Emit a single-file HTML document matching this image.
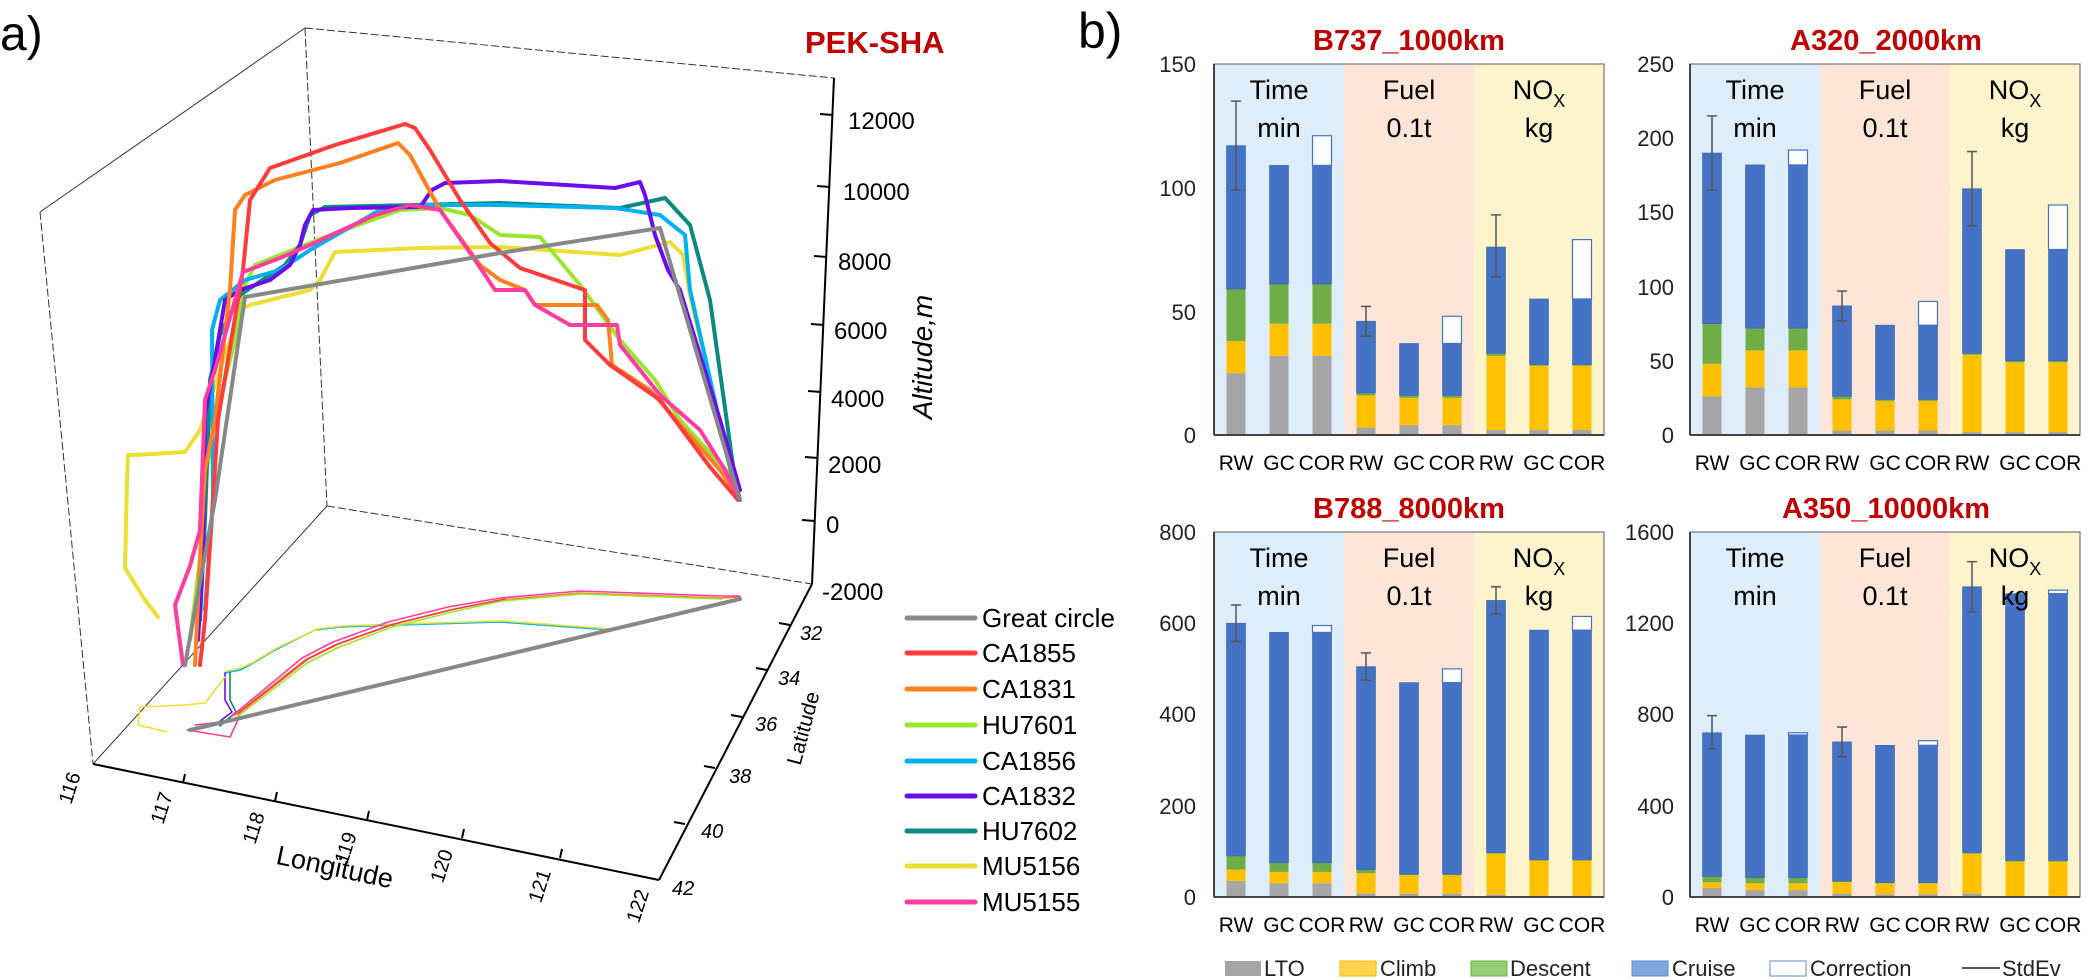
<!DOCTYPE html>
<html><head><meta charset="utf-8"><style>
html,body{margin:0;padding:0;background:#fff}
svg{display:block;font-family:"Liberation Sans",Arial,sans-serif}
</style></head><body>
<svg id="s" width="2092" height="979" viewBox="0 0 2092 979" xmlns="http://www.w3.org/2000/svg">
<rect width="2092" height="979" fill="#fff"/>
<!-- Panel a -->
<text x="0" y="50" font-size="48">a)</text>
<text x="805" y="53" font-size="31" font-weight="bold" fill="#c00000">PEK-SHA</text>
<g stroke="#333" stroke-width="1" fill="none">
<line x1="305" y1="28" x2="327" y2="506" stroke-dasharray="8,3"/>
<line x1="305" y1="28" x2="834" y2="78" stroke-dasharray="8,3"/>
<line x1="305" y1="28" x2="40" y2="212"/>
<line x1="40" y1="212" x2="93" y2="764" stroke-dasharray="8,3"/>
<line x1="327" y1="506" x2="812" y2="584" stroke-dasharray="8,3"/>
<line x1="327" y1="506" x2="93" y2="764"/>
</g>
<g stroke="#000" stroke-width="2" fill="none">
<line x1="93" y1="764" x2="659" y2="880"/>
<line x1="659" y1="880" x2="812" y2="584"/>
<line x1="812" y1="584" x2="834" y2="78"/>
<line x1="183" y1="783" x2="185" y2="774"/><line x1="275" y1="801" x2="277" y2="792"/><line x1="367" y1="820" x2="369" y2="811"/><line x1="462" y1="838" x2="464" y2="829"/><line x1="560" y1="858" x2="562" y2="849"/>
<line x1="790" y1="625" x2="779" y2="623"/><line x1="767" y1="670" x2="756" y2="668"/><line x1="742" y1="717" x2="731" y2="715"/><line x1="715" y1="768" x2="704" y2="766"/><line x1="685" y1="824" x2="674" y2="822"/>
<line x1="833" y1="115" x2="820" y2="114"/><line x1="830" y1="187" x2="817" y2="186"/><line x1="827" y1="257" x2="814" y2="256"/><line x1="824" y1="325" x2="811" y2="324"/><line x1="821" y1="392" x2="808" y2="391"/><line x1="818" y1="458" x2="805" y2="457"/><line x1="815" y1="521" x2="802" y2="520"/>
</g>
<g font-size="24" fill="#000">
<text x="848" y="129">12000</text><text x="843" y="200">10000</text><text x="838" y="270">8000</text><text x="834" y="339">6000</text><text x="831" y="407">4000</text><text x="828" y="473">2000</text><text x="826" y="533">0</text><text x="822" y="600">-2000</text>
</g>
<text transform="translate(932,357) rotate(-90)" text-anchor="middle" font-size="28" font-style="italic">Altitude,m</text>
<g font-size="20" fill="#000" font-style="italic">
<text x="800" y="640">32</text><text x="778" y="685">34</text><text x="755" y="731">36</text><text x="729" y="783">38</text><text x="701" y="838">40</text><text x="672" y="895">42</text>
</g>
<text transform="translate(810,730) rotate(-75)" text-anchor="middle" font-size="21">Latitude</text>
<g font-size="20" text-anchor="middle">
<text transform="translate(76,790) rotate(-72)">116</text><text transform="translate(168,810) rotate(-72)">117</text><text transform="translate(260,830) rotate(-72)">118</text><text transform="translate(352,850) rotate(-72)">119</text><text transform="translate(448,868) rotate(-72)">120</text><text transform="translate(546,888) rotate(-72)">121</text><text transform="translate(644,908) rotate(-72)">122</text>
</g>
<text transform="translate(333,876) rotate(12)" text-anchor="middle" font-size="27">Longitude</text>
<g fill="none" stroke-linejoin="round" stroke-linecap="round">
<g stroke-width="1.6">
<polyline stroke="#00b0f0" points="225,673 240,670 250,665 275,650 315,630 340,627 400,625 500,622 610,630 740,599"/>
<polyline stroke="#ecdf33" points="226,671 241,668 252,663 277,648 317,629 342,626 402,624 502,621 612,629 740,598"/>
<polyline stroke="#6a0dea" points="225,673 225,700 232,712 215,725"/>
<polyline stroke="#0a8a80" points="230,673 230,700 236,712 220,726"/>
<polyline stroke="#ff8020" points="235,715 305,660 335,645 390,625 450,610 500,600 580,593 720,598 740,597"/>
<polyline stroke="#9be52f" points="237,717 307,663 337,648 392,627 452,612 502,601 582,594 722,599"/>
<polyline stroke="#ff3ca0" points="232,716 302,658 333,642 388,622 448,607 500,598 580,591 720,596 740,596"/>
<polyline stroke="#ff3c3c" points="238,714 308,659 338,644 394,624 455,609 505,599"/>
<polyline stroke="#ff3ca0" points="187,730 230,737 238,720 195,725"/>
<polyline stroke="#ecdf33" points="225,677 205,703 185,705 140,707 138,725 167,732"/>
</g>
<polyline stroke="#888" stroke-width="4" points="190,730 740,599"/>
<g stroke-width="4">
<polyline stroke="#ecdf33" points="158,617 145,600 125,568 127,479 128,455 135,455 185,452 200,430 240,310 250,305 310,290 320,280 335,252 420,248 500,247 620,255 670,242 683,255 690,295 735,490"/>
<polyline stroke="#9be52f" points="190,640 200,560 205,479 215,420 220,400 235,340 245,285 255,265 330,235 400,210 440,208 470,215 500,235 540,237 580,285 620,340 655,380 680,420 735,480"/>
<polyline stroke="#0a8a80" points="200,620 205,520 210,380 220,335 240,295 285,265 300,245 310,215 325,207 500,203 620,208 665,198 690,225 710,300 735,480 740,500"/>
<polyline stroke="#00b0f0" points="205,610 213,500 212,330 220,300 245,280 280,270 310,250 380,210 425,205 500,205 615,208 660,215 685,235 690,290 735,490"/>
<polyline stroke="#6a0dea" points="198,640 203,560 205,415 215,360 225,300 240,290 270,280 290,265 300,245 305,225 313,210 350,208 420,207 432,190 445,183 500,181 615,188 640,182 645,195 655,235 668,270 680,290 720,420 740,490"/>
<polyline stroke="#ff8020" points="195,665 200,560 205,470 215,420 230,290 235,210 245,195 275,180 340,163 398,143 410,155 440,210 480,265 500,280 525,290 535,305 597,305 608,320 612,365 650,390 720,470 740,500"/>
<polyline stroke="#ff3c3c" points="200,665 205,620 213,500 218,420 243,270 250,200 270,168 335,145 405,124 415,128 430,150 460,200 490,243 520,268 585,290 585,340 610,365 660,400 710,467 738,500"/>
<polyline stroke="#ff3ca0" points="183,665 175,605 190,566 200,530 205,400 215,370 235,300 243,272 280,258 310,245 375,215 410,205 440,210 475,260 495,290 525,290 535,305 570,325 617,325 620,345 660,395 700,430 725,470 740,500"/>
<polyline stroke="#888" points="185,665 215,500 245,297 500,253 660,228 740,500"/>
</g>
</g>
<g stroke-width="5" stroke-linecap="round">
<line x1="907" y1="618" x2="975" y2="618" stroke="#888"/>
<line x1="907" y1="653" x2="975" y2="653" stroke="#ff3c3c"/>
<line x1="907" y1="689" x2="975" y2="689" stroke="#ff8020"/>
<line x1="907" y1="725" x2="975" y2="725" stroke="#9be52f"/>
<line x1="907" y1="761" x2="975" y2="761" stroke="#00b0f0"/>
<line x1="907" y1="796" x2="975" y2="796" stroke="#6a0dea"/>
<line x1="907" y1="831" x2="975" y2="831" stroke="#0a8a80"/>
<line x1="907" y1="866" x2="975" y2="866" stroke="#ecdf33"/>
<line x1="907" y1="902" x2="975" y2="902" stroke="#ff3ca0"/>
</g>
<g font-size="26">
<text x="982" y="627">Great circle</text><text x="982" y="662">CA1855</text><text x="982" y="698">CA1831</text><text x="982" y="734">HU7601</text><text x="982" y="770">CA1856</text><text x="982" y="805">CA1832</text><text x="982" y="840">HU7602</text><text x="982" y="875">MU5156</text><text x="982" y="911">MU5155</text>
</g>
<!-- Panel b -->
<text x="1078" y="48" font-size="50">b)</text>
<g font-size="29" font-weight="bold" fill="#c00000" text-anchor="middle">
<text x="1409" y="50">B737_1000km</text><text x="1886" y="50">A320_2000km</text>
<text x="1409" y="518">B788_8000km</text><text x="1886" y="518">A350_10000km</text>
</g>
<g id="bars"></g>
<g font-size="22" fill="#222" text-anchor="end">
<text x="1196" y="72">150</text><text x="1196" y="196">100</text><text x="1196" y="320">50</text><text x="1196" y="443">0</text>
<text x="1674" y="72">250</text><text x="1674" y="146">200</text><text x="1674" y="220">150</text><text x="1674" y="295">100</text><text x="1674" y="369">50</text><text x="1674" y="443">0</text>
<text x="1196" y="540">800</text><text x="1196" y="631">600</text><text x="1196" y="722">400</text><text x="1196" y="814">200</text><text x="1196" y="905">0</text>
<text x="1674" y="540">1600</text><text x="1674" y="631">1200</text><text x="1674" y="722">800</text><text x="1674" y="814">400</text><text x="1674" y="905">0</text>
</g>
<g id="cats" font-size="27" text-anchor="middle" fill="#000">
<text x="1279" y="99">Time</text><text x="1279" y="137">min</text><text x="1409" y="99">Fuel</text><text x="1409" y="137">0.1t</text><text x="1539" y="99">NO<tspan font-size="18" dy="8">X</tspan></text><text x="1539" y="137">kg</text>
<text x="1755" y="99">Time</text><text x="1755" y="137">min</text><text x="1885" y="99">Fuel</text><text x="1885" y="137">0.1t</text><text x="2015" y="99">NO<tspan font-size="18" dy="8">X</tspan></text><text x="2015" y="137">kg</text>
<text x="1279" y="567">Time</text><text x="1279" y="605">min</text><text x="1409" y="567">Fuel</text><text x="1409" y="605">0.1t</text><text x="1539" y="567">NO<tspan font-size="18" dy="8">X</tspan></text><text x="1539" y="605">kg</text>
<text x="1755" y="567">Time</text><text x="1755" y="605">min</text><text x="1885" y="567">Fuel</text><text x="1885" y="605">0.1t</text><text x="2015" y="567">NO<tspan font-size="18" dy="8">X</tspan></text><text x="2015" y="605">kg</text>
</g>
<g font-size="21" text-anchor="middle" fill="#000">
<text x="1236" y="470">RW</text><text x="1279" y="470">GC</text><text x="1322" y="470">COR</text><text x="1366" y="470">RW</text><text x="1409" y="470">GC</text><text x="1452" y="470">COR</text><text x="1496" y="470">RW</text><text x="1539" y="470">GC</text><text x="1582" y="470">COR</text>
<text x="1712" y="470">RW</text><text x="1755" y="470">GC</text><text x="1798" y="470">COR</text><text x="1842" y="470">RW</text><text x="1885" y="470">GC</text><text x="1928" y="470">COR</text><text x="1972" y="470">RW</text><text x="2015" y="470">GC</text><text x="2058" y="470">COR</text>
<text x="1236" y="932">RW</text><text x="1279" y="932">GC</text><text x="1322" y="932">COR</text><text x="1366" y="932">RW</text><text x="1409" y="932">GC</text><text x="1452" y="932">COR</text><text x="1496" y="932">RW</text><text x="1539" y="932">GC</text><text x="1582" y="932">COR</text>
<text x="1712" y="932">RW</text><text x="1755" y="932">GC</text><text x="1798" y="932">COR</text><text x="1842" y="932">RW</text><text x="1885" y="932">GC</text><text x="1928" y="932">COR</text><text x="1972" y="932">RW</text><text x="2015" y="932">GC</text><text x="2058" y="932">COR</text>
</g>
<g>
<rect x="1225" y="961" width="36" height="15" fill="#a5a5a5"/>
<rect x="1340" y="961" width="36" height="15" fill="#ffd34f" stroke="#f0b800"/>
<rect x="1471" y="961" width="36" height="15" fill="#93cd74" stroke="#70ad47"/>
<rect x="1632" y="961" width="36" height="15" fill="#7fa8e0" stroke="#5b8bd0"/>
<rect x="1770" y="961" width="36" height="15" fill="#fff" stroke="#5b8bd0"/>
<line x1="1962" y1="968" x2="2000" y2="968" stroke="#555" stroke-width="2"/>
</g>
<g font-size="22" fill="#222">
<text x="1264" y="976">LTO</text><text x="1380" y="976">Climb</text><text x="1510" y="976">Descent</text><text x="1672" y="976">Cruise</text><text x="1810" y="976">Correction</text><text x="2002" y="976">StdEv</text>
</g>
</svg>
<script>
(function(){
var NS="http://www.w3.org/2000/svg",g=document.getElementById("bars");
function el(t,a){var e=document.createElementNS(NS,t);for(var k in a)e.setAttribute(k,a[k]);g.appendChild(e);return e;}
var P=[
{x:1214,t:64,b:435,m:150,d:[[25,38,59,117,0,135,99],[32,45,61,109,0],[32,45,61,109,121],[3,16,17,46,0,52,40],[4,15,16,37,0],[4,15,16,37,48],[2,32,33,76,0,89,64],[2,28,28.5,55,0],[2,28,28.5,55,79]]},
{x:1690,t:64,b:435,m:250,d:[[26,48,75,190,0,215,165],[32,57,72,182,0],[32,57,72,182,192],[3,24,26,87,0,97,77],[3,23,24,74,0],[3,23,24,74,90],[2,54,55,166,0,191,141],[2,49,50,125,0],[2,49,50,125,155]]},
{x:1214,t:532,b:897,m:800,d:[[35,60,90,600,0,640,560],[30,55,75,580,0],[30,55,75,580,595],[8,52,60,505,0,535,475],[7,48,50,470,0],[7,48,50,470,500],[5,95,97,650,0,680,620],[3,80,82,585,0],[3,80,82,585,615]]},
{x:1690,t:532,b:897,m:1600,d:[[40,65,90,720,0,795,650],[30,60,85,710,0],[30,60,85,710,720],[15,65,70,680,0,745,615],[12,60,63,665,0],[12,60,63,665,685],[15,190,195,1360,0,1470,1250],[5,155,160,1330,0],[5,155,160,1330,1345]]}];
var bg=["#ddeefa","#fde6d8","#fdf3cc"],col=["#a5a5a5","#ffc000","#70ad47","#4472c4"];
P.forEach(function(p){
 var h=p.b-p.t;function Y(v){return p.b-v/p.m*h;}
 for(var s=0;s<3;s++)el("rect",{x:p.x+s*130,y:p.t,width:130,height:h,fill:bg[s]});
 p.d.forEach(function(d,i){
  var s=Math.floor(i/3),k=i%3,cx=p.x+s*130+22+k*43,w=19,prev=0;
  for(var j=0;j<4;j++){el("rect",{x:cx-w/2,y:Y(d[j]),width:w,height:Math.max(0,Y(prev)-Y(d[j])),fill:col[j],stroke:j==3?"#3a64b0":"none","stroke-width":0.6});prev=d[j];}
  if(d[4]>0)el("rect",{x:cx-w/2,y:Y(d[4]),width:w,height:Y(d[3])-Y(d[4]),fill:"#fff",stroke:"#4472c4","stroke-width":1.2});
  if(d[5]){el("line",{x1:cx,y1:Y(d[5]),x2:cx,y2:Y(d[6]),stroke:"#555","stroke-width":1.5});
   el("line",{x1:cx-5,y1:Y(d[5]),x2:cx+5,y2:Y(d[5]),stroke:"#555","stroke-width":1.5});
   el("line",{x1:cx-5,y1:Y(d[6]),x2:cx+5,y2:Y(d[6]),stroke:"#555","stroke-width":1.5});}
 });
 el("rect",{x:p.x,y:p.t,width:390,height:h,fill:"none",stroke:"#777","stroke-width":1.2});
 el("line",{x1:p.x,y1:p.b,x2:p.x+390,y2:p.b,stroke:"#444","stroke-width":2});
 el("line",{x1:p.x,y1:p.t,x2:p.x,y2:p.b,stroke:"#444","stroke-width":2});
});
})();
</script>
</body></html>
